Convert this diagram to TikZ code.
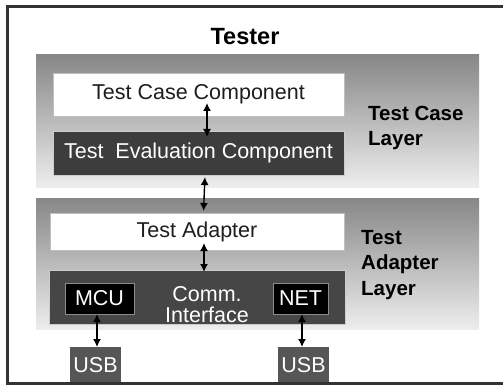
\documentclass[tikz,border=0pt]{standalone}
\usepackage{fontspec}
\setmainfont{Liberation Sans}
\usetikzlibrary{arrows.meta,fit}
\definecolor{frameline}{HTML}{333333}
\definecolor{darkbox}{HTML}{3D3D3D}
\definecolor{commbox}{HTML}{464646}
\definecolor{usbbox}{HTML}{565656}
\definecolor{inktext}{HTML}{1E1E1E}
\tikzset{
  layerpanel/.style={inner sep=0pt, outer sep=0pt, top color=black!47, bottom color=black!7},
  whitebox/.style={inner sep=0pt, outer sep=0pt, fill=white, draw=black!25, line width=0.6pt},
  darkcomp/.style={inner sep=0pt, outer sep=0pt, fill=darkbox, draw=black!20, line width=0.6pt},
  portbox/.style={inner sep=0pt, outer sep=0pt, fill=black, draw=black!45, line width=0.8pt},
  usbport/.style={inner sep=0pt, outer sep=0pt, fill=usbbox},
  boxtext/.style={text=inktext, font=\fontsize{21.5}{25}\selectfont},
  lighttext/.style={text=white, font=\fontsize{21.5}{25}\selectfont},
  layerlabel/.style={anchor=west, align=left, inner sep=0pt, font=\bfseries\fontsize{20.5}{25.5}\selectfont},
  link/.style={{Latex[length=8pt,width=8pt]}-{Latex[length=8pt,width=8pt]}, line width=1.4pt, black}
}
\begin{document}
\begin{tikzpicture}[x=1pt,y=-1pt]
\useasboundingbox (0,0) rectangle (503,385);
\begin{scope}
\clip (0,0) rectangle (503,385);
\fill[white] (0,0) rectangle (503,385);

% the two layers
\node[layerpanel, fit={(36,55) (479,187)}] (caselayer) {};
\node[layerpanel, fit={(36,198) (479,329)}] (adapterlayer) {};

% title
\node[font=\bfseries\fontsize{23.5}{26}\selectfont] (tester) at (245,37) {Tester};

% test case layer
\node[whitebox, fit={(53,73) (344,116)}] (tcc) {};
\node[boxtext] (tcctext) at (tcc.center) {Test Case Component};
\node[darkcomp, fit={(53,131) (344,175)}] (tec) {};
\node[lighttext] (tectext) at (tec.center) {Test\ \ Evaluation Component};
\node[layerlabel] (caselabel) at (368,128) {Test Case\\Layer};

% test adapter layer
\node[whitebox, fit={(50,213) (344,250)}] (ta) {};
\node[boxtext] (tatext) at (ta.center) {Test Adapter};
\node[darkcomp, fill=commbox, fit={(49,270) (345,324)}] (ci) {};
\node[lighttext, align=center, inner sep=0pt, font=\fontsize{21.5}{21}\selectfont] (citext) at (207,305) {Comm.\\Interface};
\node[portbox, fit={(65,283) (134,314)}] (mcu) {};
\node[lighttext] (mcutext) at (mcu.center) {MCU};
\node[portbox, fit={(273,283) (328,314)}] (net) {};
\node[lighttext] (nettext) at (net.center) {NET};
\node[layerlabel] (adapterlabel) at (361,265) {Test\\Adapter\\Layer};

% physical ports
\node[usbport, fit={(70,347) (121,383)}] (usbA) {};
\node[lighttext] (usbAtext) at (usbA.center) {USB};
\node[usbport, fit={(278,347) (329,383)}] (usbB) {};
\node[lighttext] (usbBtext) at (usbB.center) {USB};

% connections
\draw[link, shorten <=-13pt, shorten >=-6pt] ([xshift=8.5pt]tcc.south) -- ([xshift=8.5pt]tec.north);
\draw[link, shorten <=2pt, shorten >=2pt] ([xshift=6.5pt]tec.south) -- ([xshift=6.5pt]ta.north);
\draw[link, shorten <=-7pt, shorten >=-2pt] ([xshift=7pt]ta.south) -- ([xshift=7pt]ci.north);
\draw[link] ([xshift=-2.5pt]mcu.south) -- ([xshift=1.5pt]usbA.north);
\draw[link] ([xshift=1.5pt]net.south) -- ([xshift=-1.5pt]usbB.north);

% outer frame
\draw[frameline, line width=3pt] (7.5,400) -- (7.5,6.5) -- (520,6.5);
\draw[frameline, line width=3pt] (7.5,383.7) -- (520,383.7);
\end{scope}
\end{tikzpicture}
\end{document}
